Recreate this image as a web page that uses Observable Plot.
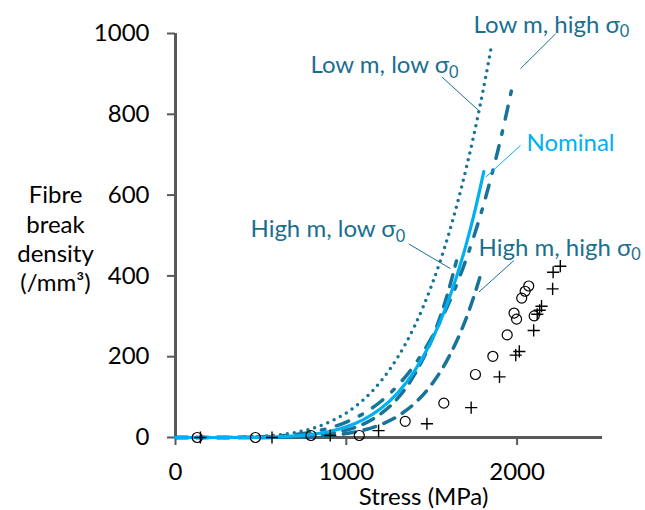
<!DOCTYPE html>
<html><head><meta charset="utf-8">
<script src="https://cdn.jsdelivr.net/npm/d3@7"></script>
<script src="https://cdn.jsdelivr.net/npm/@observablehq/plot@0.6"></script>
<style>body{margin:0;background:#fff;} svg{font-family:Lato,sans-serif}</style>
</head><body><div id="chart"></div>
<script>
// ---- data ----
const xTicks = [0, 1000, 2000];
const yTicks = [0, 200, 400, 600, 800, 1000];

const nominalStress  = [0, 200, 400, 500, 600, 700, 800, 900, 1000, 1100, 1200, 1300, 1400, 1500, 1600, 1700, 1750, 1805];
const nominalDensity = [0, 0, 0.2, 0.6, 1.6, 3.8, 7.8, 14.8, 26.3, 44.2, 71.1, 110, 165, 240, 341, 475, 556, 658];

const lowMLowS0Stress  = [0, 200, 400, 500, 600, 700, 800, 900, 1000, 1100, 1200, 1300, 1400, 1500, 1600, 1700, 1750, 1800, 1846];
const lowMLowS0Density = [0, 0.04, 1.0, 2.7, 6.1, 12.2, 22.3, 37.9, 60.9, 93.4, 138, 198, 276, 377, 504, 663, 755, 857, 960];

const lowMHighS0Stress  = [0, 200, 400, 500, 600, 700, 800, 900, 1000, 1100, 1200, 1300, 1400, 1500, 1600, 1700, 1800, 1900, 1979];
const lowMHighS0Density = [0, 0.03, 0.6, 1.6, 3.6, 7.4, 13.7, 23.5, 38.2, 59.2, 88.5, 128, 180, 247, 332, 439, 571, 732, 883];

const highMLowS0Stress  = [0, 200, 400, 500, 600, 700, 800, 900, 1000, 1100, 1200, 1300, 1400, 1500, 1600, 1645];
const highMLowS0Density = [0, 0, 0.05, 0.2, 0.7, 1.8, 4.3, 9.2, 18.1, 33.3, 58.1, 96.8, 156, 242, 366, 437];

const highMHighS0Stress  = [0, 200, 400, 500, 600, 700, 800, 900, 1000, 1100, 1200, 1300, 1400, 1500, 1600, 1700, 1750, 1795];
const highMHighS0Density = [0, 0, 0, 0.1, 0.4, 1.0, 2.4, 5.0, 9.8, 18.1, 31.5, 52.6, 84.5, 131.5, 199, 293, 353, 415];

const circleStress  = [127, 468, 793, 1076, 1345, 1571, 1756, 1858, 1942, 1982, 1997, 2027, 2047, 2068, 2100];
const circleDensity = [0, 0, 5, 5, 40, 85, 156, 201, 254, 308, 293, 345, 362, 375, 301];

const plusStress  = [146, 565, 906, 1189, 1472, 1731, 1897, 1992, 2013, 2097, 2118, 2132, 2143, 2208, 2211, 2253];
const plusDensity = [0, 0, 5, 17, 34, 74, 150, 204, 213, 265, 305, 315, 325, 368, 409, 424];

// ---- helpers ----
const pts = (xs, ys) => xs.map((x, i) => ({x, y: ys[i]}));
const teal = "#1a6f90";
const tealLine = "#17739a";
const blue = "#00b0f0";
const axisGray = "#595959";
const fs = 24;

const lineOpts = {x: "x", y: "y", curve: "monotone-x"};

const plot = Plot.plot({
  width: 645, height: 510,
  marginLeft: 175, marginRight: 43, marginTop: 33, marginBottom: 73,
  style: {fontFamily: "Lato, sans-serif", fontSize: fs + "px", color: "black", background: "white", overflow: "visible"},
  x: {domain: [0, 2500]},
  y: {domain: [0, 1000]},
  marks: [
    Plot.axisY({ticks: yTicks, tickSize: 8, tickPadding: 18, stroke: axisGray, strokeWidth: 2, fill: "black", label: null, fontSize: fs, tickFormat: d => String(d)}),
    Plot.axisX({ticks: xTicks, tickSize: 8, tickPadding: 17, stroke: axisGray, strokeWidth: 2, fill: "black", label: null, fontSize: fs, tickFormat: d => String(d)}),
    Plot.ruleX([0], {stroke: axisGray, strokeWidth: 3}),
    Plot.ruleY([0], {stroke: axisGray, strokeWidth: 3}),

    Plot.line(pts(highMHighS0Stress, highMHighS0Density), {...lineOpts, stroke: tealLine, strokeWidth: 3.5, strokeDasharray: "12 9"}),
    Plot.line(pts(highMLowS0Stress, highMLowS0Density), {...lineOpts, stroke: tealLine, strokeWidth: 3.5, strokeDasharray: "12 9"}),
    Plot.line(pts(lowMHighS0Stress, lowMHighS0Density), {...lineOpts, stroke: tealLine, strokeWidth: 3.5, strokeDasharray: "13 12 3.5 12"}),
    Plot.line(pts(lowMLowS0Stress, lowMLowS0Density), {...lineOpts, stroke: tealLine, strokeWidth: 3.5, strokeDasharray: "0 7", strokeLinecap: "round"}),
    Plot.line(pts(nominalStress, nominalDensity), {...lineOpts, stroke: blue, strokeWidth: 3.2}),

    Plot.dot(pts(circleStress, circleDensity), {x: "x", y: "y", r: 5, stroke: "black", strokeWidth: 1.2, fill: "none"}),
    Plot.dot(pts(plusStress, plusDensity), {x: "x", y: "y", symbol: "plus", r: 4, stroke: "black", strokeWidth: 1.4}),

    // leader lines
    Plot.link([0], {x1: 2225, y1: 999, x2: 2020, y2: 913, stroke: teal, strokeWidth: 1}),
    Plot.link([0], {x1: 1561, y1: 892, x2: 1776, y2: 809, stroke: teal, strokeWidth: 1}),
    Plot.link([0], {x1: 2020, y1: 723, x2: 1815, y2: 644, stroke: blue, strokeWidth: 1}),
    Plot.link([0], {x1: 1366, y1: 479, x2: 1610, y2: 418, stroke: teal, strokeWidth: 1}),
    Plot.link([0], {x1: 1981, y1: 438, x2: 1776, y2: 360, stroke: teal, strokeWidth: 1}),

    // curve labels
    Plot.text(["Low m, high σ_0"], {text: d => d, x: 1745, y: 1002, textAnchor: "start", lineAnchor: "bottom", fill: teal, fontSize: fs}),
    Plot.text(["Low m, low σ_0"], {text: d => d, x: 790, y: 901, textAnchor: "start", lineAnchor: "bottom", fill: teal, fontSize: fs}),
    Plot.text(["Nominal"], {text: d => d, x: 2055, y: 710, textAnchor: "start", lineAnchor: "bottom", fill: blue, fontSize: fs}),
    Plot.text(["High m, low σ_0"], {text: d => d, x: 439, y: 496, textAnchor: "start", lineAnchor: "bottom", fill: teal, fontSize: fs}),
    Plot.text(["High m, high σ_0"], {text: d => d, x: 1774, y: 450, textAnchor: "start", lineAnchor: "bottom", fill: teal, fontSize: fs}),

    // axis titles
    Plot.text(["Fibre\nbreak\ndensity\n(/mm³)"], {text: d => d, frameAnchor: "top-left", dx: -120, dy: 149, textAnchor: "middle", lineAnchor: "top", lineHeight: 1.22, fill: "black", fontSize: fs}),
    Plot.text(["Stress (MPa)"], {text: d => d, x: 1452, frameAnchor: "bottom", dy: 67, textAnchor: "middle", lineAnchor: "bottom", fill: "black", fontSize: fs})
  ]
});

// subscripts
plot.querySelectorAll("text").forEach(t => {
  const s = t.textContent;
  if (s.includes("_0") && t.children.length === 0) {
    const [a, b] = s.split("_0");
    t.textContent = a;
    const ts = document.createElementNS("http://www.w3.org/2000/svg", "tspan");
    ts.setAttribute("font-size", "0.68em");
    ts.setAttribute("dy", "0.28em");
    ts.textContent = "0";
    t.appendChild(ts);
  }
});
document.getElementById("chart").appendChild(plot);
</script>
</body></html>
